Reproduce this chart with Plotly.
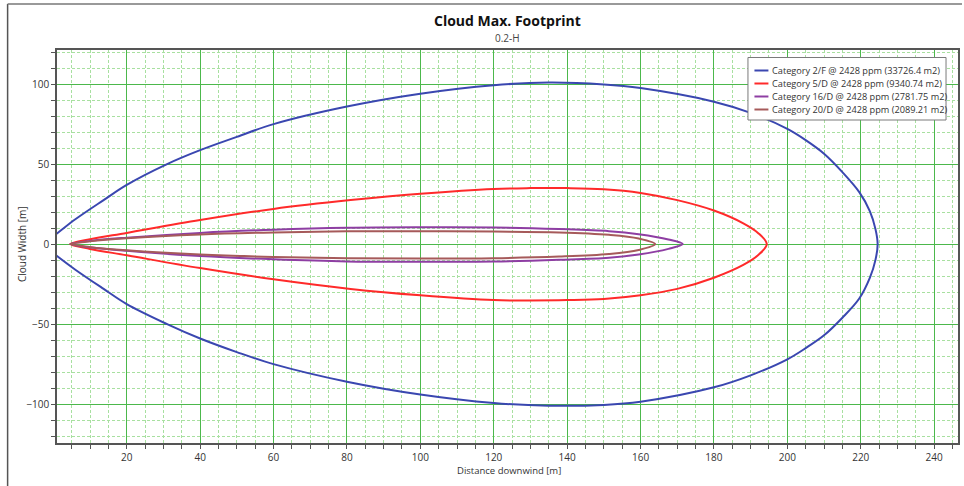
import plotly.graph_objects as go

# ---- data ----
series_names = [
    "Category 2/F @ 2428 ppm (33726.4 m2)",
    "Category 5/D @ 2428 ppm (9340.74 m2)",
    "Category 16/D @ 2428 ppm (2781.75 m2)",
    "Category 20/D @ 2428 ppm (2089.21 m2)",
]
series_colors = ["#3a47b0", "#ff2a2a", "#8e3ea3", "#a65a5a"]

# Category 2/F
cat2f_x = [-3, 1, 6, 13.7, 20, 31, 40, 50, 60, 80, 100, 120, 135, 150, 160, 180, 190, 200, 205, 210, 215, 219.6, 222.5, 224, 224.6]
cat2f_up = [0, 6.7, 15.5, 27.5, 37, 50, 58.7, 67, 75, 86, 94, 99.3, 101, 99.8, 97.5, 89, 82, 72, 65, 56.5, 45, 32.5, 20.5, 9.5, 0]
cat2f_lo = [0, -7.5, -16, -28, -37.5, -50, -59, -67.5, -75, -86, -94, -99.3, -101, -100.5, -98.5, -89.5, -82, -72, -65, -57, -46, -34, -21, -10, 0]

# Category 5/D
cat5d_x = [4.6, 10, 20, 40, 60, 81, 100, 120, 130, 140, 150, 160, 170, 180, 188, 192, 194.4]
cat5d_up = [0, 3, 7, 15, 22, 27.5, 31.5, 34.5, 35, 35, 34.3, 32, 27.5, 21, 13, 7, 0]
cat5d_lo = [0, -3, -7, -15, -22, -28, -32, -35, -35.2, -35, -34.3, -32, -28, -21, -13, -7, 0]

# Category 16/D
cat16d_x = [4.6, 10, 20, 40, 60, 80, 100, 120, 137.8, 151.4, 159.5, 167.6, 171.5]
cat16d_up = [0, 2, 4, 7, 9, 10.2, 10.5, 10.4, 9.4, 8.1, 6.2, 2.9, 0]
cat16d_lo = [0, -2, -4.2, -7.5, -9.5, -10.8, -11, -10.9, -9.8, -8.5, -6.5, -3, 0]

# Category 20/D
cat20d_x = [4.6, 10, 20, 40, 60, 80, 100, 120, 137.8, 151.4, 159.5, 164]
cat20d_up = [0, 1.7, 3.6, 6, 7.3, 8, 8, 7.8, 7.3, 5.8, 3.5, 0]
cat20d_lo = [0, -1.9, -3.9, -6.5, -8, -8.8, -9, -8.8, -7.8, -6.2, -3.7, 0]

x_tick_vals = [20, 40, 60, 80, 100, 120, 140, 160, 180, 200, 220, 240]
y_tick_vals = [-100, -50, 0, 50, 100]

series = [
    (cat2f_x, cat2f_up, cat2f_lo),
    (cat5d_x, cat5d_up, cat5d_lo),
    (cat16d_x, cat16d_up, cat16d_lo),
    (cat20d_x, cat20d_up, cat20d_lo),
]

W, H = 964, 486
L, R, T, B = 57, 4, 50, 43

fig = go.Figure()
for name, color, (xs, up, lo) in zip(series_names, series_colors, series):
    fx = list(xs) + list(reversed(xs))[1:]
    fy = list(up) + list(reversed(lo))[1:]
    fig.add_trace(go.Scatter(
        x=fx, y=fy, mode="lines", name=name, showlegend=False,
        line=dict(color=color, width=2, shape="spline", smoothing=1.0),
    ))

major_grid = "#4cb84c"
minor_grid = "#a8e0a0"
font_family = "Open Sans, Noto Sans, sans-serif"
axis_col = "#555555"

fig.update_layout(
    width=W, height=H,
    margin=dict(l=L, r=R, t=T, b=B),
    paper_bgcolor="white", plot_bgcolor="white",
    font=dict(family=font_family, color="#333333", size=10),
    showlegend=False,
    xaxis=dict(
        range=[1, 246.5], tickvals=x_tick_vals, ticks="outside", ticklen=4,
        tickcolor=axis_col, showline=True, linecolor=axis_col, linewidth=1.5,
        mirror=True, showgrid=True, gridcolor=major_grid, gridwidth=1,
        zeroline=False, tickfont=dict(size=10, color="#333333"),
        minor=dict(dtick=5, tick0=0, ticks="outside", ticklen=4, tickcolor=axis_col,
                   showgrid=True, gridcolor=minor_grid, griddash="3px,2px", gridwidth=1),
    ),
    yaxis=dict(
        range=[-124.3, 121.3], tickvals=y_tick_vals, ticks="outside", ticklen=4,
        tickcolor=axis_col, showline=True, linecolor=axis_col, linewidth=1.5,
        mirror=True, showgrid=True, gridcolor=major_grid, gridwidth=1,
        zeroline=False, tickfont=dict(size=10, color="#333333"),
        minor=dict(dtick=10, tick0=0, ticks="outside", ticklen=4, tickcolor=axis_col,
                   showgrid=True, gridcolor=minor_grid, griddash="3px,2px", gridwidth=1),
    ),
)

pw, ph = W - L - R, H - T - B
def px2x(p):
    return (p - L) / pw
def px2y(p):
    return (H - B - p) / ph

def note(text, xp, yp, size, color="#333333", xanchor="center", angle=0):
    fig.add_annotation(text=text, xref="paper", yref="paper", x=px2x(xp), y=px2y(yp),
                       xanchor=xanchor, yanchor="middle", showarrow=False, textangle=angle,
                       font=dict(size=size, color=color, family=font_family))

note("<b>Cloud Max. Footprint</b>", 509, 20, 14, "#111111")
note("0.2-H", 509, 38, 10, "#444444")
note("Distance downwind [m]", 510, 470, 9.5)
note("Cloud Width [m]", 22, 244, 10, angle=-90)

# outer frame lines (left and top)
fig.add_shape(type="line", xref="paper", yref="paper", x0=px2x(7.5), x1=px2x(7.5),
              y0=px2y(4), y1=px2y(486), line=dict(color="#555555", width=1.5))
fig.add_shape(type="line", xref="paper", yref="paper", x0=px2x(7.5), x1=px2x(964),
              y0=px2y(4), y1=px2y(4), line=dict(color="#777777", width=1.5))

# legend box drawn to match the reference layout
fig.add_shape(type="rect", xref="paper", yref="paper",
              x0=px2x(749.5), x1=px2x(948), y0=px2y(57.5), y1=px2y(120),
              fillcolor="white", line=dict(color="#7a7a7a", width=1), layer="above")
row_y = [70.5, 83.5, 96.5, 109.5]
for name, color, ry in zip(series_names, series_colors, row_y):
    fig.add_shape(type="line", xref="paper", yref="paper",
                  x0=px2x(756), x1=px2x(770), y0=px2y(ry), y1=px2y(ry),
                  line=dict(color=color, width=2), layer="above")
    note(name, 772, ry, 9.2, "#333333", xanchor="left")

fig.write_html("out.html")
